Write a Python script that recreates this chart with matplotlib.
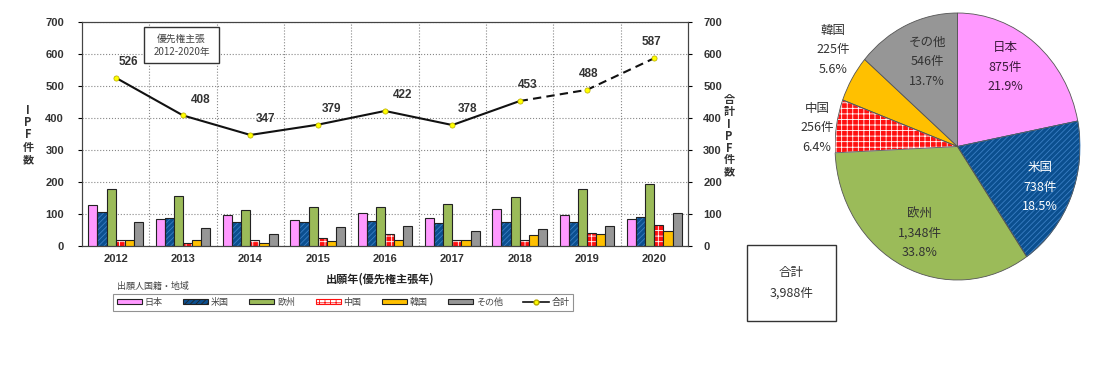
import matplotlib
matplotlib.use("Agg")
import matplotlib.pyplot as plt
import matplotlib.patches as mpatches
from matplotlib.lines import Line2D
import numpy as np

plt.rcParams['font.family'] = ['Noto Sans CJK JP', 'DejaVu Sans']
plt.rcParams['hatch.linewidth'] = 0.6
num_font = ['Liberation Sans', 'Noto Sans CJK JP']

# Data
years = ["2012", "2013", "2014", "2015", "2016", "2017", "2018", "2019", "2020"]
regions = ["日本", "米国", "欧州", "中国", "韓国", "その他"]
japan = [127, 85, 96, 80, 102, 88, 116, 98, 85]
usa = [106, 88, 74, 75, 79, 71, 75, 74, 92]
europe = [178, 155, 111, 122, 122, 131, 152, 177, 193]
china = [18, 10, 18, 26, 38, 20, 20, 41, 67]
korea = [20, 18, 10, 17, 20, 20, 34, 38, 47]
other = [75, 55, 36, 58, 64, 46, 54, 61, 102]
totals = [526, 408, 347, 379, 422, 378, 453, 488, 587]

pie_counts = [875, 738, 1348, 256, 225, 546]
pie_count_labels = ["875件", "738件", "1,348件", "256件", "225件", "546件"]
pie_pcts = ["21.9%", "18.5%", "33.8%", "6.4%", "5.6%", "13.7%"]
grand_total = "3,988件"

# Styles
faces = ["#FF99FF", "#0B4F8F", "#9BBB59", "#FF1010", "#FFC000", "#969696"]
hatches = [None, "//////", None, "+++", None, None]
hatch_cols = [None, "#3A7FC4", None, "white", None, None]
W, H = 1106, 373

fig = plt.figure(figsize=(W / 100, H / 100), dpi=100)

# ---- bar + line chart
ax = fig.add_axes([82 / W, 1 - 246 / H, 606 / W, 224 / H])
x = np.arange(len(years))
bw = 0.135
series = [japan, usa, europe, china, korea, other]
for i, vals in enumerate(series):
    pos = x + (i - 2.5) * bw
    if hatches[i]:
        ax.bar(pos, vals, bw, color=faces[i], hatch=hatches[i], edgecolor=hatch_cols[i], linewidth=0, zorder=2)
        ax.bar(pos, vals, bw, fill=False, edgecolor="#222222", linewidth=0.8, zorder=3)
    else:
        ax.bar(pos, vals, bw, color=faces[i], edgecolor="#222222", linewidth=0.8, zorder=3)

ax.plot(x[:7], totals[:7], color="#111111", lw=1.5, zorder=4)
ax.plot(x[6:], totals[6:], color="#111111", lw=1.5, ls=(0, (4, 2.5)), zorder=4)
ax.scatter(x, totals, s=14, color="#FFFF00", edgecolor="#B8A800", linewidth=0.5, zorder=5)
dx = [9, 13, 11, 10, 13, 11, 6, 1, -2]
for xi, t, d in zip(x, totals, dx):
    ax.annotate(str(t), (xi, t), xytext=(d, 7), textcoords="offset points",
                ha="center", va="bottom", fontsize=8.5, color="#333333", fontweight="bold",
                family=num_font)

ax.set_xlim(-0.5, len(years) - 0.5)
ax.set_ylim(0, 700)
ax.set_yticks(range(0, 701, 100))
ax.set_xticks(x, years)
ax.set_xticks(x[:-1] + 0.5, minor=True)
ax.tick_params(axis="x", which="both", length=0, labelsize=8, pad=6)
ax.tick_params(axis="y", length=3, labelsize=8, pad=10)
for lab in ax.get_xticklabels() + ax.get_yticklabels():
    lab.set_fontweight("bold")
    lab.set_color("#333333")
    lab.set_family(num_font)
ax.grid(True, axis="y", ls=":", color="#888888", lw=0.8, zorder=0)
ax.grid(True, axis="x", which="minor", ls=":", color="#888888", lw=0.8, zorder=0)
for s in ax.spines.values():
    s.set_color("#444444")

ax2 = ax.twinx()
ax2.set_ylim(0, 700)
ax2.set_yticks(range(0, 701, 100))
ax2.tick_params(axis="y", length=3, labelsize=8, pad=8)
for lab in ax2.get_yticklabels():
    lab.set_fontweight("bold")
    lab.set_color("#333333")
    lab.set_family(num_font)
for s in ax2.spines.values():
    s.set_color("#444444")

fig.text(28 / W, 1 - 135 / H, "I\nP\nF\n件\n数", ha="center", va="center", fontsize=8,
         fontweight="bold", linespacing=0.95, color="#333333")
fig.text(729 / W, 1 - 136 / H, "合\n計\nI\nP\nF\n件\n数", ha="center", va="center", fontsize=8,
         fontweight="bold", linespacing=0.9, color="#333333")

fig.text(380 / W, 1 - 279 / H, "出願年(優先権主張年)", ha="center", va="center", fontsize=8,
         fontweight="bold", color="#222222")
fig.text(117 / W, 1 - 286 / H, "出願人国籍・地域", ha="left", va="center", fontsize=6.5, color="#444444")

# inset note box
fig.patches.append(mpatches.Rectangle((144 / W, 1 - 63 / H), 75 / W, 36 / H, transform=fig.transFigure,
                                      fill=True, facecolor="white", edgecolor="#333333", lw=1.0, zorder=6))
fig.text(181.5 / W, 1 - 45 / H, "優先権主張\n2012-2020年", ha="center", va="center", fontsize=7,
         color="#444444", linespacing=1.4, zorder=7)

# legend
handles = []
for i, r in enumerate(regions):
    if i == 1:
        handles.append(mpatches.Patch(facecolor=faces[i], hatch="//////", edgecolor="#222222", lw=0.8, label=r))
    elif i == 3:
        handles.append(mpatches.Patch(facecolor="white", hatch="+++", edgecolor="#FF1010", lw=0.8, label=r))
    else:
        handles.append(mpatches.Patch(facecolor=faces[i], edgecolor="#222222", lw=0.8, label=r))
handles.append(Line2D([], [], color="#111111", lw=1.2, marker="o", markersize=3.5,
                      markerfacecolor="#FFFF00", markeredgecolor="#B8A800", label="合計"))
leg = fig.legend(handles=handles, loc="center", bbox_to_anchor=(343 / W, 1 - 302.5 / H), ncol=7,
                 fontsize=6.5, frameon=True, fancybox=False, handlelength=2.8, handleheight=0.45,
                 columnspacing=2.25, handletextpad=0.3, borderpad=0.45, borderaxespad=0)
leg.get_frame().set_edgecolor("#777777")
leg.get_frame().set_linewidth(0.8)
for t in leg.get_texts():
    t.set_color("#444444")

# ---- pie chart
pax = fig.add_axes([835 / W, 1 - 280 / H, 245 / W, 267 / H])
wedges, _ = pax.pie(pie_counts, startangle=90, counterclock=False, colors=faces,
                    wedgeprops=dict(edgecolor="#555555", linewidth=0.6))
for w, h in zip(wedges, hatches):
    if h:
        w.set_hatch(h)
for w, hc in zip(wedges, hatch_cols):
    if hc:
        w.set_edgecolor(hc)
# outline wedges drawn on top for hatched ones
for i, w in enumerate(wedges):
    if hatches[i]:
        pax.add_patch(mpatches.Wedge(w.center, w.r, w.theta1, w.theta2, fill=False,
                                     edgecolor="#555555", linewidth=0.6))
pax.set_aspect("auto")
pax.set_xlim(-1, 1)
pax.set_ylim(-1, 1)

# label positions in figure pixels
label_pos = [(1005, 67), (1040, 187), (920, 233), (817, 128), (833, 50), (927, 62)]
label_cols = ["#3A1A3A", "white", "#333333", "#333333", "#333333", "#333333"]
for r, c, p, pos, col in zip(regions, pie_count_labels, pie_pcts, label_pos, label_cols):
    fig.text(pos[0] / W, 1 - pos[1] / H, f"{r}\n{c}\n{p}", ha="center", va="center",
             fontsize=9, color=col, linespacing=1.65)

# total box
fig.patches.append(mpatches.Rectangle((747 / W, 1 - 321 / H), 89 / W, 76 / H, transform=fig.transFigure,
                                      fill=False, edgecolor="#333333", lw=1.0))
fig.text(791.5 / W, 1 - 283 / H, f"合計\n{grand_total}", ha="center", va="center", fontsize=9,
         color="#333333", linespacing=1.8)

fig.savefig("out.png", dpi=100)
